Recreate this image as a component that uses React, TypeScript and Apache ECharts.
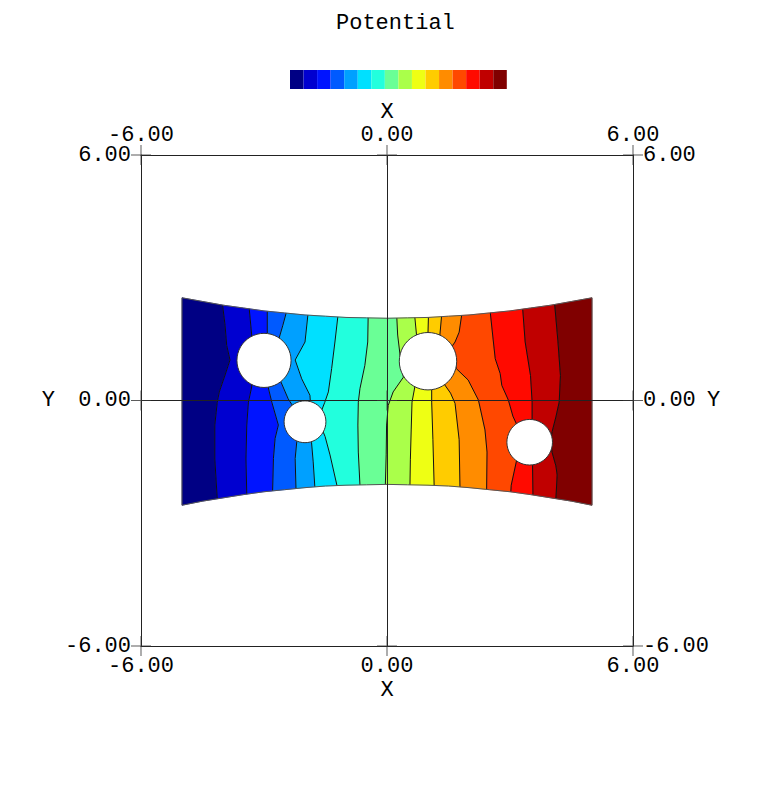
import React, { useEffect, useRef } from "react";
import * as echarts from "echarts";

// Domain outline (top / bottom curved edges), sampled along x
const EDGE_X = [-5, -4.5, -4, -3.5, -3, -2.5, -2, -1.5, -1, -0.5, 0, 0.5, 1, 1.5, 2, 2.5, 3, 3.5, 4, 4.5, 5];
const TOP_Y = [2.51, 2.42, 2.33, 2.26, 2.19, 2.14, 2.09, 2.06, 2.03, 2.02, 2.01, 2.02, 2.03, 2.06, 2.09, 2.14, 2.19, 2.26, 2.33, 2.42, 2.51];
const BOTTOM_Y = [-2.56, -2.46, -2.38, -2.3, -2.23, -2.18, -2.13, -2.09, -2.07, -2.06, -2.05, -2.06, -2.07, -2.09, -2.13, -2.18, -2.23, -2.3, -2.38, -2.46, -2.56];

// Holes: [centerX, centerY, radius]
const HOLES = [
  [-3.0, 0.98, 0.66],
  [-2.0, -0.52, 0.51],
  [1.0, 0.96, 0.7],
  [3.48, -1.02, 0.556],
];

// Level colours (16 bands)
const LEVELS = [0, 1, 2, 3, 4, 5, 6, 7, 8, 9, 10, 11, 12, 13, 14, 15];
const LEVEL_COLORS = [
  "#000084", "#0000d0", "#0014ff", "#005aff", "#00a0ff", "#00e0ff", "#22ffdd", "#6aff96",
  "#aaff4a", "#eeff14", "#ffcc00", "#ff8c00", "#ff4800", "#ff0a00", "#c00000", "#800000",
];

// Contour lines between bands: x where line meets top edge, interior points, x at bottom edge
const CONTOUR_TOP_X = [-4.01, -3.36, -2.92, -2.46, -1.93, -1.2, -0.46, 0.24, 0.68, 1.01, 1.33, 1.82, 2.52, 3.31, 4.09];
const CONTOUR_BOTTOM_X = [-4.14, -3.42, -2.79, -2.22, -1.76, -1.22, -0.66, -0.04, 0.56, 1.15, 1.78, 2.43, 3.02, 3.56, 4.12];
const CONTOUR_POINTS = [
  [[-3.95, 1.84], [-3.91, 1.35], [-3.83, 0.99], [-3.95, 0.62], [-4.09, 0.21], [-4.14, -0.04], [-4.2, -0.6], [-4.2, -1.43]],
  [[-3.3, 1.6], [-3.3, 0.33], [-3.38, -0.04], [-3.42, -0.6], [-3.44, -1.43]],
  [[-2.92, 1.63], [-2.9, 0.33], [-2.81, -0.04], [-2.65, -0.6], [-2.73, -0.93], [-2.77, -1.42]],
  [[-2.54, 1.84], [-2.63, 1.53], [-2.59, 0.46], [-2.41, 0.04], [-2.32, -0.1], [-2.2, -1.0], [-2.24, -1.42]],
  [[-2.0, 1.43], [-2.24, 0.99], [-2.08, 0.53], [-1.88, 0.13], [-1.87, -0.02], [-1.84, -1.03], [-1.8, -1.5]],
  [[-1.27, 1.43], [-1.35, 0.78], [-1.43, 0.21], [-1.52, -0.05], [-1.59, -0.23], [-1.56, -0.76], [-1.51, -0.88], [-1.39, -1.33]],
  [[-0.47, 1.43], [-0.54, 0.86], [-0.66, 0.29], [-0.7, -0.04], [-0.71, -0.6], [-0.7, -1.26]],
  [[0.26, 1.6], [0.32, 1.1], [0.4, 0.57], [0.15, 0.21], [0.03, -0.12], [-0.01, -0.6], [-0.02, -1.33]],
  [[0.72, 1.6], [0.68, 0.34], [0.61, -0.04], [0.59, -0.72], [0.57, -1.45]],
  [[1.0, 1.66], [1.09, 0.27], [1.09, -0.04], [1.12, -0.96]],
  [[1.29, 1.6], [1.41, 0.38], [1.55, 0.18], [1.66, -0.07], [1.76, -0.96]],
  [[1.76, 1.67], [1.66, 1.43], [1.59, 1.33], [1.69, 0.78], [1.98, 0.5], [2.23, 0.01], [2.39, -0.72], [2.44, -1.26]],
  [[2.59, 1.48], [2.64, 1.02], [2.76, 0.66], [2.8, 0.37], [2.96, 0.01], [3.07, -0.38], [3.17, -0.6], [3.16, -1.47], [3.03, -2.07]],
  [[3.37, 1.43], [3.5, 0.61], [3.54, -0.04], [3.54, -0.47], [3.55, -1.58]],
  [[4.17, 1.43], [4.23, 0.61], [4.2, -0.04], [4.12, -0.4], [4.03, -0.75], [3.99, -1.0], [4.03, -1.28], [4.12, -1.6], [4.15, -1.82]],
];

const TICKS = [-6, 0, 6];
const TITLE = "Potential";

const lerpEdge = (ys: number[], x: number) => {
  if (x <= EDGE_X[0]) return ys[0];
  for (let j = 1; j < EDGE_X.length; j++) {
    if (x <= EDGE_X[j]) {
      const t = (x - EDGE_X[j - 1]) / (EDGE_X[j] - EDGE_X[j - 1]);
      return ys[j - 1] + t * (ys[j] - ys[j - 1]);
    }
  }
  return ys[ys.length - 1];
};

const boundary = (k: number): number[][] => {
  const last = EDGE_X.length - 1;
  if (k === 0) return [[EDGE_X[0], TOP_Y[0]], [EDGE_X[0], BOTTOM_Y[0]]];
  if (k === CONTOUR_TOP_X.length + 1) return [[EDGE_X[last], TOP_Y[last]], [EDGE_X[last], BOTTOM_Y[last]]];
  const i = k - 1;
  return [
    [CONTOUR_TOP_X[i], lerpEdge(TOP_Y, CONTOUR_TOP_X[i])],
    ...CONTOUR_POINTS[i],
    [CONTOUR_BOTTOM_X[i], lerpEdge(BOTTOM_Y, CONTOUR_BOTTOM_X[i])],
  ];
};

const bandPolygon = (b: number) => {
  const L = boundary(b);
  const R = boundary(b + 1);
  const lb = L[L.length - 1][0];
  const rb = R[R.length - 1][0];
  const lt = L[0][0];
  const rt = R[0][0];
  const bottomEdge = EDGE_X.map((x, j) => [x, BOTTOM_Y[j]]).filter((p) => p[0] > lb && p[0] < rb);
  const topEdge = EDGE_X.map((x, j) => [x, TOP_Y[j]]).filter((p) => p[0] > lt && p[0] < rt).reverse();
  return [...L, ...bottomEdge, ...R.slice().reverse(), ...topEdge];
};

const FONT = "Liberation Mono";

export default function App() {
  const ref = useRef<HTMLDivElement>(null);
  useEffect(() => {
    if (!ref.current) return;
    const chart = echarts.init(ref.current, undefined, { renderer: "svg" });
    const labelStyle = { fontFamily: FONT, fontSize: 22, lineHeight: 20, color: "#000" };
    const axisBase = (extra: any) => ({
      type: "value",
      min: -6,
      max: 6,
      interval: 6,
      z: 3,
      axisLine: { show: true, onZero: false, lineStyle: { color: "#222", width: 1 } },
      axisTick: { show: false },
      axisLabel: { ...labelStyle, formatter: (v: number) => v.toFixed(2), margin: 10, showMinLabel: true, showMaxLabel: true },
      nameTextStyle: labelStyle,
      nameLocation: "middle",
      nameMoveOverlap: false,
      splitLine: { show: false },
      ...extra,
    });
    const crosses: number[][] = [];
    TICKS.forEach((x) => TICKS.forEach((y) => crosses.push([x, y])));
    const domain = [
      ...EDGE_X.map((x, j) => [x, TOP_Y[j]]),
      ...EDGE_X.map((x, j) => [x, BOTTOM_Y[j]]).reverse(),
    ];
    chart.setOption({
      animation: false,
      title: {
        text: TITLE,
        left: 336,
        top: 12,
        padding: 0,
        textStyle: { fontFamily: FONT, fontSize: 22, fontWeight: "normal", color: "#000" },
      },
      grid: { left: 141, top: 155, width: 492, height: 491 },
      visualMap: {
        type: "piecewise",
        orient: "horizontal",
        left: 290,
        top: 70,
        padding: 0,
        itemWidth: 13.55,
        itemHeight: 19,
        itemGap: 0,
        itemSymbol: "rect",
        showLabel: false,
        selectedMode: false,
        hoverLink: false,
        seriesIndex: 0,
        dimension: 0,
        pieces: LEVELS.map((l) => ({ value: l, color: LEVEL_COLORS[l] })),
      },
      xAxis: [
        axisBase({ position: "bottom", name: "X", nameGap: 34, splitLine: { show: true, lineStyle: { color: "#222", width: 1 } } }),
        axisBase({ position: "top", name: "X", nameGap: 33 }),
      ],
      yAxis: [
        axisBase({ position: "left", name: "Y", nameGap: 86, nameRotate: 0, splitLine: { show: true, lineStyle: { color: "#222", width: 1 } } }),
        axisBase({ position: "right", name: "Y", nameGap: 74, nameRotate: 0 }),
      ],
      series: [
        {
          type: "custom",
          name: "bands",
          coordinateSystem: "cartesian2d",
          data: LEVELS.map((l) => [l]),
          renderItem: (params: any, api: any) => {
            const b = api.value(0);
            const pts = bandPolygon(b).map((p) => api.coord(p));
            const c = api.visual("color");
            return { type: "polygon", shape: { points: pts }, style: { fill: c, stroke: c, lineWidth: 0.6 } };
          },
        },
        {
          type: "custom",
          name: "contours",
          coordinateSystem: "cartesian2d",
          data: CONTOUR_TOP_X.map((_, i) => [i + 1]),
          renderItem: (params: any, api: any) => {
            const k = api.value(0);
            const pts = boundary(k).map((p) => api.coord(p));
            return { type: "polyline", shape: { points: pts }, style: { fill: null, stroke: "#111", lineWidth: 1 } };
          },
        },
        {
          type: "custom",
          name: "holes",
          coordinateSystem: "cartesian2d",
          data: HOLES,
          renderItem: (params: any, api: any) => {
            const c = api.coord([api.value(0), api.value(1)]);
            const r = api.size([api.value(2), api.value(2)])[0];
            return { type: "circle", shape: { cx: c[0], cy: c[1], r }, style: { fill: "#fff", stroke: "#333", lineWidth: 1 } };
          },
        },
        {
          type: "custom",
          name: "outline",
          coordinateSystem: "cartesian2d",
          data: [[0]],
          renderItem: (params: any, api: any) => {
            const pts = domain.map((p) => api.coord(p));
            return { type: "polygon", shape: { points: pts }, style: { fill: null, stroke: "#555", lineWidth: 1 } };
          },
        },
        {
          type: "scatter",
          name: "ticks",
          z: 5,
          data: crosses,
          symbol: "path://M9.5,0h1v20h-1zM0,9.5h20v1h-20z",
          symbolSize: 20,
          itemStyle: { color: "#333" },
          silent: true,
        },
      ],
    });
    return () => chart.dispose();
  }, []);
  return <div ref={ref} style={{ position: "fixed", left: 0, top: 0, width: 775, height: 803, background: "#fff" }} />;
}
